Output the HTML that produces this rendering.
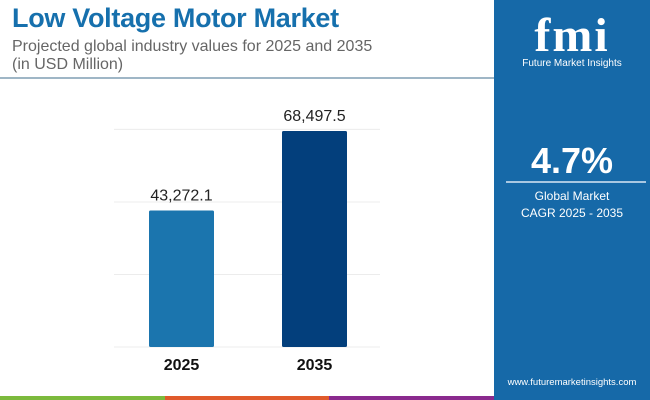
<!DOCTYPE html>
<html><head><meta charset="utf-8"><style>
body{margin:0;width:650px;height:400px;overflow:hidden;background:#fff;font-family:"Liberation Sans",sans-serif;position:relative}
.t{position:absolute;margin:0}
</style></head><body>
<div class="t" style="left:12px;top:3px;font-size:27px;font-weight:bold;color:#1670ad;letter-spacing:-0.3px">Low Voltage Motor Market</div>
<div class="t" style="left:12px;top:38px;font-size:16px;line-height:18px;color:#666">Projected global industry values for 2025 and 2035<br>(in USD Million)</div>
<div style="position:absolute;left:0;top:77px;width:494px;height:2px;background:#9fb6c6"></div>
<svg id="chart" width="494" height="400" style="position:absolute;left:0;top:0"></svg>
<div style="position:absolute;left:494px;top:0;width:156px;height:400px;background:#1669a8;color:#fff;text-align:center">
 <div style="position:absolute;left:0;width:156px;top:8px;font-size:48px;font-weight:bold;font-family:'Liberation Serif',serif;letter-spacing:2px">fmi</div>
 <div style="position:absolute;left:0;width:156px;top:58px;font-size:10px">Future Market Insights</div>
 <div style="position:absolute;left:0;width:156px;top:140px;font-size:36px;font-weight:bold">4.7%</div>
 <div style="position:absolute;left:12px;width:140px;top:181px;height:2px;background:#a9c8e2"></div>
 <div style="position:absolute;left:0;width:156px;top:188px;font-size:12px;line-height:17px">Global Market<br>CAGR 2025 - 2035</div>
 <div style="position:absolute;left:0;width:156px;top:377px;font-size:9.5px">www.futuremarketinsights.com</div>
</div>
<div style="position:absolute;left:0;top:396px;width:165px;height:4px;background:#7cba3d"></div>
<div style="position:absolute;left:165px;top:396px;width:164px;height:4px;background:#e05a2b"></div>
<div style="position:absolute;left:329px;top:396px;width:165px;height:4px;background:#8a2a8e"></div>
<script>
const categories=["2025","2035"];
const values=[43272.1,68497.5];
const labels=["43,272.1","68,497.5"];
const gridTicks=[0,23000,46000,69000];
const colors=["#1b75ae","#033f7c"];
const svg=document.getElementById('chart');
const NS='http://www.w3.org/2000/svg';
const base=347, ppu=216/68497.5;
const y=v=>base-v*ppu;
const x=i=>149+i*133;
gridTicks.forEach(t=>{const l=document.createElementNS(NS,'line');
l.setAttribute('x1',114);l.setAttribute('x2',380);l.setAttribute('y1',y(t));l.setAttribute('y2',y(t));
l.setAttribute('stroke','#ececec');l.setAttribute('stroke-width',1);


svg.appendChild(l);});
categories.forEach((c,i)=>{
const r=document.createElementNS(NS,'rect');
r.setAttribute('x',x(i));r.setAttribute('width',65);r.setAttribute('y',y(values[i]));r.setAttribute('height',base-y(values[i]));r.setAttribute('fill',colors[i]);r.setAttribute('rx',1.5);


svg.appendChild(r);
const v=document.createElementNS(NS,'text');
v.setAttribute('x',x(i)+32.5);v.setAttribute('y',y(values[i])-10);v.setAttribute('text-anchor','middle');v.setAttribute('font-size','16');v.setAttribute('fill','#222');v.textContent=labels[i];


svg.appendChild(v);
const t=document.createElementNS(NS,'text');
t.setAttribute('x',x(i)+32.5);t.setAttribute('y',370);t.setAttribute('text-anchor','middle');t.setAttribute('font-size','16');t.setAttribute('font-weight','bold');t.setAttribute('fill','#111');t.textContent=c;


svg.appendChild(t);
});
</script>
</body></html>
